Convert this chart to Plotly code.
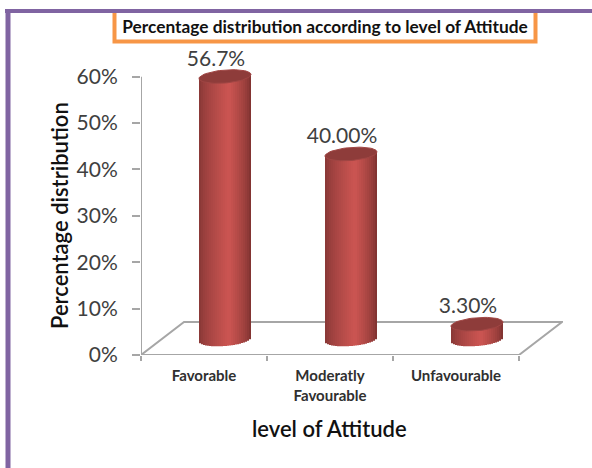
import math
import plotly.graph_objects as go

# Chart content
categories = ["Favorable", "Moderatly<br>Favourable", "Unfavourable"]
values = [56.7, 40.0, 3.3]
value_labels = ["56.7%", "40.00%", "3.30%"]
percent_ticks = [0, 10, 20, 30, 40, 50, 60]
percent_tick_labels = ["0%", "10%", "20%", "30%", "40%", "50%", "60%"]

W, H = 592, 468
FONT = "Lato, Carlito, 'Open Sans', sans-serif"
GREY = "#a6a6a6"
TEXT = "#404040"
TITLE_INK = "#111111"

# Plot frame and scales, in pixels
LEFT, RIGHT, FLOOR = 141, 563, 355
PX_PER_CAT = 126.0
PX_PER_PCT = 278.3 / 60.0
Y_MAX = 72  # head room above the 60% tick for the tallest cylinder and its label

# Oblique floor depth and cylinder geometry, in pixels
DEPTH_X, DEPTH_Y = 43.0, 33.0
BAR_DX, BAR_DY = 21.0, 15.5
RADIUS, ELL_B, TILT = 26.0, 6.5, 2.0
STRIPS = 26


def to_x(px):
    return px / PX_PER_CAT


def to_y(px):
    return px / PX_PER_PCT


def shade(u):
    """Cylinder body colour across its width, u from -1 to 1."""
    dark_l, light, dark_r = (132, 54, 52), (204, 85, 82), (122, 48, 46)
    peak = 0.15
    if u < peak:
        t = ((u + 1) / (peak + 1)) ** 0.7
        c0, c1 = dark_l, light
    else:
        t = ((1 - u) / (1 - peak)) ** 0.7
        c0, c1 = dark_r, light
    return "rgb(%d,%d,%d)" % tuple(round(a + (b - a) * t) for a, b in zip(c0, c1))


# Cylinder bodies: each one is a run of thin bars whose ends follow the ellipses
strip_x, strip_base, strip_h, strip_col = [], [], [], []
strip_w = 2 * RADIUS / STRIPS
for i, v in enumerate(values):
    cx = i + 0.5 + to_x(BAR_DX)
    for s in range(STRIPS):
        u = -1 + (2 * s + 1) / STRIPS
        rise = TILT * u
        base_px = BAR_DY + rise - ELL_B * math.sqrt(1 - u * u)
        strip_x.append(cx + to_x(u * RADIUS))
        strip_base.append(to_y(base_px))
        strip_h.append(v + to_y(BAR_DY + rise) - to_y(base_px))
        strip_col.append(shade(u))

# Cylinder caps
cap_x, cap_y = [], []
for i, v in enumerate(values):
    cx = i + 0.5 + to_x(BAR_DX)
    cy = v + to_y(BAR_DY)
    for k in range(61):
        t = 2 * math.pi * k / 60
        cap_x.append(cx + to_x(RADIUS * math.cos(t)))
        cap_y.append(cy + to_y(TILT * math.cos(t) + ELL_B * math.sin(t)))
    cap_x.append(None)
    cap_y.append(None)

n_cat = len(categories)
fig = go.Figure()

# Value axis line, stopping at the last tick
fig.add_trace(go.Scatter(
    x=[0, 0], y=[percent_ticks[0], percent_ticks[-1]],
    mode="lines", line=dict(color=GREY, width=2), cliponaxis=False, hoverinfo="skip",
))
fig.add_trace(go.Bar(
    x=strip_x, y=strip_h, base=strip_base, width=to_x(strip_w),
    marker=dict(color=strip_col, line=dict(width=0)), cliponaxis=False,
))
fig.add_trace(go.Scatter(
    x=cap_x, y=cap_y, mode="lines", fill="toself", fillcolor="#8e3c3a",
    line=dict(color="#a04644", width=1), cliponaxis=False, hoverinfo="skip",
))
# Value labels above the cylinders
fig.add_trace(go.Scatter(
    x=[i + 0.5 + to_x(BAR_DX - 9) for i in range(n_cat)],
    y=[v + to_y(BAR_DY + 16) for v in values],
    mode="text", text=value_labels, textposition="middle center",
    textfont=dict(family=FONT, size=21, color=TEXT), cliponaxis=False,
))

# Floor outline, kept under the cylinders
floor_dx, floor_dy = to_x(DEPTH_X), to_y(DEPTH_Y)
floor_path = (
    f"M 0 0 L {n_cat} 0 L {n_cat + floor_dx} {floor_dy} "
    f"L {floor_dx} {floor_dy} Z"
)

fig.update_layout(
    width=W, height=H, autosize=False,
    margin=dict(l=0, r=0, t=0, b=0),
    paper_bgcolor="white", plot_bgcolor="rgba(0,0,0,0)",
    showlegend=False, barmode="overlay",
    title=dict(
        text="<b>Percentage distribution according to level of Attitude</b>",
        x=325 / W, xanchor="center", y=1 - 27 / H, yanchor="middle",
        xref="container", yref="container",
        font=dict(family=FONT, size=17.3, color=TITLE_INK),
    ),
    xaxis=dict(
        domain=[LEFT / W, RIGHT / W], range=[0, (RIGHT - LEFT) / PX_PER_CAT],
        automargin=False,
        tickvals=[i + 0.5 for i in range(n_cat)], ticktext=categories,
        ticks="", showgrid=False, zeroline=False, showline=False,
        tickfont=dict(family=FONT, size=15, color="#303030", weight=700),
        ticklabelstandoff=10,
        minor=dict(tick0=0, dtick=1, ticks="outside", ticklen=5, tickwidth=2,
                   tickcolor=GREY, showgrid=False),
    ),
    yaxis=dict(
        domain=[1 - FLOOR / H, 1 - (FLOOR - Y_MAX * PX_PER_PCT) / H], range=[0, Y_MAX],
        automargin=False,
        tickvals=percent_ticks, ticktext=percent_tick_labels,
        ticks="outside", ticklen=8, tickwidth=2, tickcolor=GREY,
        showline=False, showgrid=False, zeroline=False,
        tickfont=dict(family=FONT, size=21, color=TEXT),
        ticklabelstandoff=10,
    ),
    annotations=[
        # Axis titles centred on the 0-60% span and the floor's front edge
        dict(text="level of Attitude", xref="paper", yref="paper",
             x=329 / W, y=1 - 428 / H, xanchor="center", yanchor="middle", showarrow=False,
             font=dict(family=FONT, size=22, color=TITLE_INK, weight=600)),
        dict(text="Percentage distribution", xref="paper", yref="paper", textangle=-90,
             x=59 / W, y=1 - 216 / H, xanchor="center", yanchor="middle", showarrow=False,
             font=dict(family=FONT, size=22, color=TITLE_INK, weight=600)),
    ],
    shapes=[
        dict(type="path", xref="x", yref="y", layer="below", path=floor_path,
             line=dict(color=GREY, width=2)),
        # Orange frame behind the heading
        dict(type="rect", xref="paper", yref="paper", layer="below",
             x0=114.5 / W, x1=535.5 / W, y0=1 - 41.5 / H, y1=1 - 11 / H,
             line=dict(color="#f79646", width=4), fillcolor="white"),
        # Purple page border on the top and left
        dict(type="line", xref="paper", yref="paper",
             x0=5 / W, x1=1, y0=1 - 11 / H, y1=1 - 11 / H,
             line=dict(color="#8064a2", width=4)),
        dict(type="line", xref="paper", yref="paper",
             x0=8 / W, x1=8 / W, y0=0, y1=1 - 9 / H,
             line=dict(color="#8064a2", width=5)),
    ],
)

fig.write_html("out.html")
